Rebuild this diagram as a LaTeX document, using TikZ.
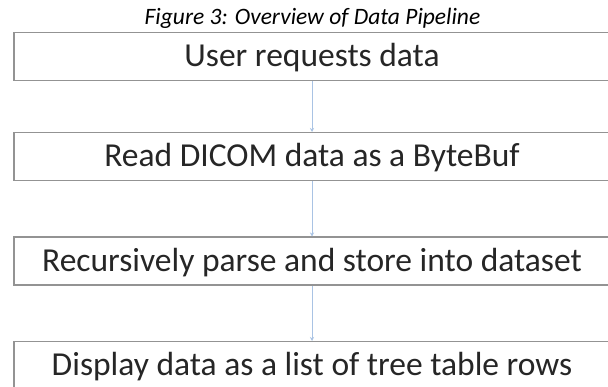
\documentclass[tikz,border=0pt]{standalone}
\usepackage{fontspec}
\setmainfont{Carlito}
\usetikzlibrary{arrows.meta}
\definecolor{boxgray}{HTML}{939393}
\definecolor{textgray}{HTML}{262626}
\definecolor{arrowblue}{HTML}{A9C3E4}
\begin{document}
\begin{tikzpicture}[x=1pt,y=-1pt,
  stagebox/.style={draw=boxgray,line width=1.5pt,minimum width=598pt,minimum height=48pt,inner sep=0pt,anchor=north west},
  stagetext/.style={font=\fontsize{33.5}{38}\selectfont,text=textgray,inner sep=0pt,anchor=base},
  titletext/.style={font=\fontsize{23.5}{28}\selectfont\itshape,text=black,inner sep=0pt,anchor=base},
  flow/.style={draw=arrowblue,line width=0.9pt,-{Stealth[length=4pt,width=4pt]}}]
\useasboundingbox (0,0) rectangle (608,387);
\clip (0,0) rectangle (608,387);
\fill[white] (0,0) rectangle (608,387);
\node[titletext] (title) at (312.5,25) {Figure 3: Overview of Data Pipeline};
\node[stagebox] (b1) at (13,32) {};
\node[stagebox] (b2) at (13,132) {};
\node[stagebox] (b3) at (13,236.5) {};
\node[stagebox] (b4) at (13,341) {};
\node[stagetext] (t1) at (312,67) {User requests data};
\node[stagetext] (t2) at (312,167) {Read DICOM data as a ByteBuf};
\node[stagetext] (t3) at (312,271.5) {Recursively parse and store into dataset};
\node[stagetext] (t4) at (312,376) {Display data as a list of tree table rows};
\draw[flow] (b1.south -| t1) -- (b2.north -| t1);
\draw[flow] (b2.south -| t2) -- (b3.north -| t2);
\draw[flow] (b3.south -| t3) -- (b4.north -| t3);
\end{tikzpicture}
\end{document}
